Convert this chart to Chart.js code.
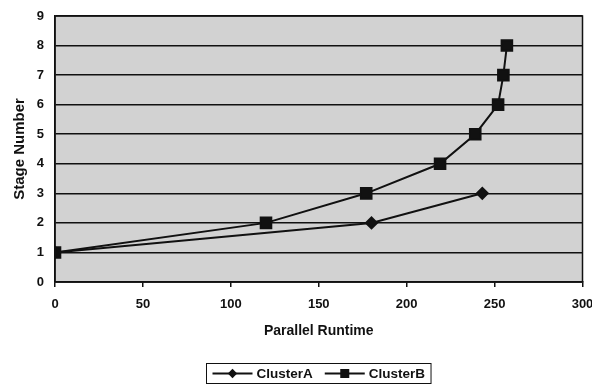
<!DOCTYPE html>
<html>
<head>
<meta charset="utf-8">
<script src="https://cdn.jsdelivr.net/npm/chart.js@4/dist/chart.umd.min.js"></script>
<style>
  html, body { margin: 0; padding: 0; background: #fff; }
  #wrap { width: 592px; height: 385px; }
</style>
</head>
<body>
<div id="wrap"><canvas id="ch_runtime"></canvas></div>
<script>
// runtime (x) needed to reach each stage (y)
const clusterA_x = [0, 180, 243];
const clusterA_y = [1, 2, 3];
const clusterB_x = [0, 120, 177, 219, 239, 252, 255, 257];
const clusterB_y = [1, 2, 3, 4, 5, 6, 7, 8];
const seriesNames = ['ClusterA', 'ClusterB'];

const FONT = "'Liberation Sans', Arial, sans-serif";

function pts(xs, ys) { return xs.map((x, i) => ({ x, y: ys[i] })); }

// grey plot panel + black frame
const panel = {
  id: 'panel',
  beforeDraw(chart) {
    const { ctx, chartArea: a } = chart;
    ctx.save();
    ctx.fillStyle = '#d2d2d2';
    ctx.fillRect(a.left, a.top, a.right - a.left, a.bottom - a.top);
    ctx.restore();
  },
  beforeDatasetsDraw(chart) {
    const { ctx, chartArea: a } = chart;
    ctx.save();
    ctx.strokeStyle = '#111';
    ctx.lineWidth = 1.5;
    ctx.strokeRect(a.left, a.top, a.right - a.left, a.bottom - a.top);
    ctx.restore();
  }
};

// boxed legend under the axis title, line + marker swatches
const boxLegend = {
  id: 'boxLegend',
  afterDraw(chart) {
    const { ctx, chartArea: a } = chart;
    const sets = chart.data.datasets;
    ctx.save();
    ctx.font = 'bold 13.5px ' + FONT;
    const lineW = 40, gap = 4, itemGap = 12, padX = 6;
    const widths = sets.map(d => lineW + gap + ctx.measureText(d.label).width);
    const total = widths.reduce((s, w) => s + w, 0) + itemGap * (sets.length - 1) + padX * 2;
    const cx = (a.left + a.right) / 2;
    const top = 363, h = 20;
    let x = Math.round(cx - total / 2) + 0.5;
    ctx.fillStyle = '#fff';
    ctx.fillRect(x, top + 0.5, total, h);
    ctx.strokeStyle = '#111';
    ctx.lineWidth = 1;
    ctx.strokeRect(x, top + 0.5, total, h);
    const my = top + h / 2 + 0.5;
    x += padX;
    sets.forEach((d, i) => {
      ctx.strokeStyle = d.borderColor;
      ctx.lineWidth = d.borderWidth;
      ctx.beginPath();
      ctx.moveTo(x, my);
      ctx.lineTo(x + lineW, my);
      ctx.stroke();
      ctx.fillStyle = d.pointBackgroundColor;
      Chart.helpers.drawPoint(ctx, {
        pointStyle: d.pointStyle,
        radius: d.pointRadius * 0.85,
        borderWidth: 0,
        rotation: 0
      }, x + lineW / 2, my);
      ctx.fillStyle = '#111';
      ctx.textBaseline = 'middle';
      ctx.fillText(d.label, x + lineW + gap, my + 1);
      x += widths[i] + itemGap;
    });
    ctx.restore();
  }
};

const chart = new Chart(document.getElementById('ch_runtime').getContext('2d'), {
  type: 'line',
  data: {
    datasets: [
      {
        label: seriesNames[0],
        data: pts(clusterA_x, clusterA_y),
        borderColor: '#111',
        backgroundColor: '#111',
        pointBackgroundColor: '#111',
        pointBorderColor: '#111',
        borderWidth: 2,
        pointStyle: 'rectRot',
        pointRadius: 5.5,
        tension: 0,
        fill: false
      },
      {
        label: seriesNames[1],
        data: pts(clusterB_x, clusterB_y),
        borderColor: '#111',
        backgroundColor: '#111',
        pointBackgroundColor: '#111',
        pointBorderColor: '#111',
        borderWidth: 2,
        pointStyle: 'rect',
        pointRadius: 7.5,
        tension: 0,
        fill: false
      }
    ]
  },
  options: {
    responsive: true,
    maintainAspectRatio: false,
    animation: false,
    layout: { padding: { left: 8, right: 9, top: 16, bottom: 43 } },
    plugins: {
      legend: { display: false },
      tooltip: { enabled: false }
    },
    scales: {
      x: {
        type: 'linear',
        min: 0, max: 300,
        // let the "300" label run off the right edge instead of shrinking the panel
        afterFit: s => { s.height = 60; s.paddingLeft = 0; s.paddingRight = 0; },
        ticks: {
          stepSize: 50,
          padding: 10,
          color: '#111',
          font: { family: FONT, size: 13, weight: 'bold' }
        },
        grid: { drawOnChartArea: false, drawTicks: true, tickLength: 5, color: '#111', lineWidth: 1.5 },
        border: { display: true, color: '#111', width: 1.5 },
        title: {
          display: true,
          text: 'Parallel Runtime',
          color: '#111',
          padding: { top: 4, bottom: 2 },
          font: { family: FONT, size: 14, weight: 'bold' }
        }
      },
      y: {
        min: 0, max: 9,
        afterFit: s => { s.width = 47; s.paddingTop = 0; s.paddingBottom = 0; },
        ticks: {
          stepSize: 1,
          padding: 11,
          color: '#111',
          font: { family: FONT, size: 13, weight: 'bold' }
        },
        grid: { drawTicks: false, color: '#111', lineWidth: 1.5 },
        border: { display: true, color: '#111', width: 1.5 },
        title: {
          display: true,
          text: 'Stage Number',
          color: '#111',
          padding: { top: 3, bottom: 4 },
          font: { family: FONT, size: 15, weight: 'bold' }
        }
      }
    }
  },
  plugins: [panel, boxLegend]
});
</script>
</body>
</html>
